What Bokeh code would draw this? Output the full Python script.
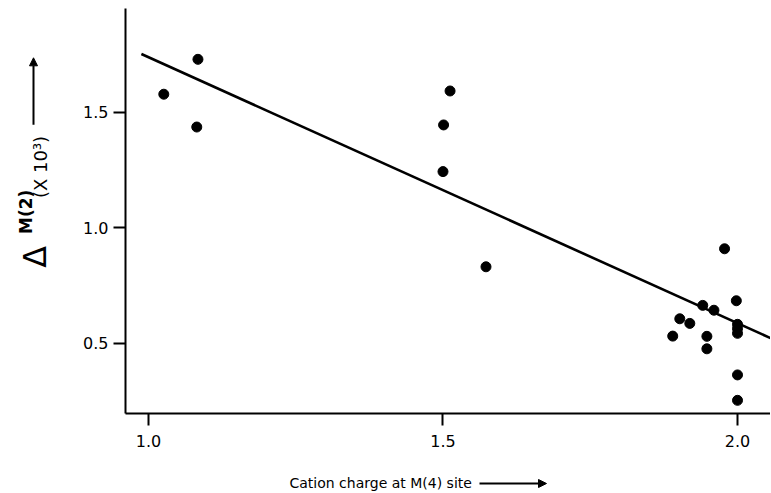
import math
from bokeh.plotting import figure
from bokeh.layouts import column, row
from bokeh.models import Range1d, FixedTicker, Label, Arrow, NormalHead, ColumnDataSource
from bokeh.embed import file_html
from bokeh.resources import INLINE

# ---- data ----
charge = [1.026, 1.084, 1.082,
          1.512, 1.501, 1.500, 1.573,
          1.978, 1.998, 1.941, 1.960, 1.902, 1.919, 2.000, 2.000, 2.000,
          1.890, 1.948, 1.948, 2.000, 2.000]
delta = [1.579, 1.730, 1.437,
         1.593, 1.446, 1.244, 0.832,
         0.910, 0.685, 0.665, 0.644, 0.607, 0.587, 0.583, 0.564, 0.544,
         0.532, 0.531, 0.477, 0.364, 0.254]
fit_x = [0.988, 2.06]
fit_y = [1.753, 0.519]
x_ticks = [1.0, 1.5, 2.0]
y_ticks = [0.5, 1.0, 1.5]
x_label = "Cation charge at M(4) site"
y_symbol = "Δ"
y_super = "M(2)"
y_sub = "(X 10³)"

FONT = "DejaVu Sans"

X0, X1 = 0.961, 2.056
Y0, Y1 = 0.197, 1.950

YLAB_W = 60
MAIN_W, MAIN_H = 710, 460
XLAB_H = 32

# ---------------- main plot ----------------
p = figure(width=MAIN_W, height=MAIN_H, output_backend="svg", toolbar_location=None,
           x_range=Range1d(X0, X1), y_range=Range1d(Y0, Y1),
           min_border_left=125 - YLAB_W, min_border_right=0, min_border_top=8,
           min_border_bottom=MAIN_H - 413)
p.outline_line_color = None
p.grid.visible = False

for ax, ticks in ((p.xaxis, x_ticks), (p.yaxis, y_ticks)):
    ax.ticker = FixedTicker(ticks=ticks)
    ax.minor_tick_line_color = None
    ax.major_tick_in = 0
    ax.major_tick_out = 12
    ax.axis_line_width = 2
    ax.major_tick_line_width = 2
    ax.axis_line_color = "black"
    ax.major_tick_line_color = "black"
    ax.major_label_text_font = FONT
    ax.major_label_text_font_size = "16px"
    ax.major_label_text_color = "black"
p.xaxis.major_label_standoff = 9
p.yaxis.major_label_standoff = 5
p.xaxis.major_label_overrides = {t: f"{t:.1f}" for t in x_ticks}
p.yaxis.major_label_overrides = {t: f"{t:.1f}" for t in y_ticks}

src = ColumnDataSource(dict(x=charge, y=delta))
p.line(fit_x, fit_y, line_color="black", line_width=2.6)
p.scatter("x", "y", source=src, size=10, fill_color="black", line_color="black")

# ---------------- y-axis label panel (pixel coordinates) ----------------
yl = figure(width=YLAB_W, height=MAIN_H, output_backend="svg", toolbar_location=None,
            x_range=Range1d(0, YLAB_W), y_range=Range1d(MAIN_H, 0),
            x_axis_type=None, y_axis_type=None,
            min_border=0, min_border_left=0, min_border_right=0,
            min_border_top=0, min_border_bottom=0)
yl.outline_line_color = None
yl.grid.visible = False
yl.add_layout(Label(x=34, y=282, text=y_symbol, angle=math.pi / 2,
                    text_font=FONT, text_font_size="32px", text_align="center",
                    text_baseline="middle", text_color="black"))
yl.add_layout(Label(x=25, y=231, text=y_super, angle=math.pi / 2,
                    text_font=FONT, text_font_size="17px", text_font_style="bold",
                    text_align="center", text_baseline="middle", text_color="black"))
yl.add_layout(Label(x=40, y=180, text=y_sub, angle=math.pi / 2,
                    text_font=FONT, text_font_size="18px", text_align="center",
                    text_baseline="middle", text_color="black"))
yl.add_layout(Arrow(x_start=33, y_start=132, x_end=33, y_end=56,
                    line_width=2, line_color="black",
                    end=NormalHead(size=8, fill_color="black", line_color="black")))

# ---------------- x-axis label panel (pixel coordinates) ----------------
TOTAL_W = YLAB_W + MAIN_W
xl = figure(width=TOTAL_W, height=XLAB_H, output_backend="svg", toolbar_location=None,
            x_range=Range1d(0, TOTAL_W), y_range=Range1d(MAIN_H + XLAB_H, MAIN_H),
            x_axis_type=None, y_axis_type=None,
            min_border=0, min_border_left=0, min_border_right=0,
            min_border_top=0, min_border_bottom=0)
xl.outline_line_color = None
xl.grid.visible = False
xl.add_layout(Label(x=289, y=482, text=x_label,
                    text_font=FONT, text_font_size="14px", text_align="left",
                    text_baseline="middle", text_color="black"))
xl.add_layout(Arrow(x_start=479, y_start=483, x_end=546, y_end=483,
                    line_width=2, line_color="black",
                    end=NormalHead(size=8, fill_color="black", line_color="black")))

layout = column(row(yl, p, spacing=0), xl, spacing=0)
open("out.html", "w").write(file_html(layout, INLINE))
